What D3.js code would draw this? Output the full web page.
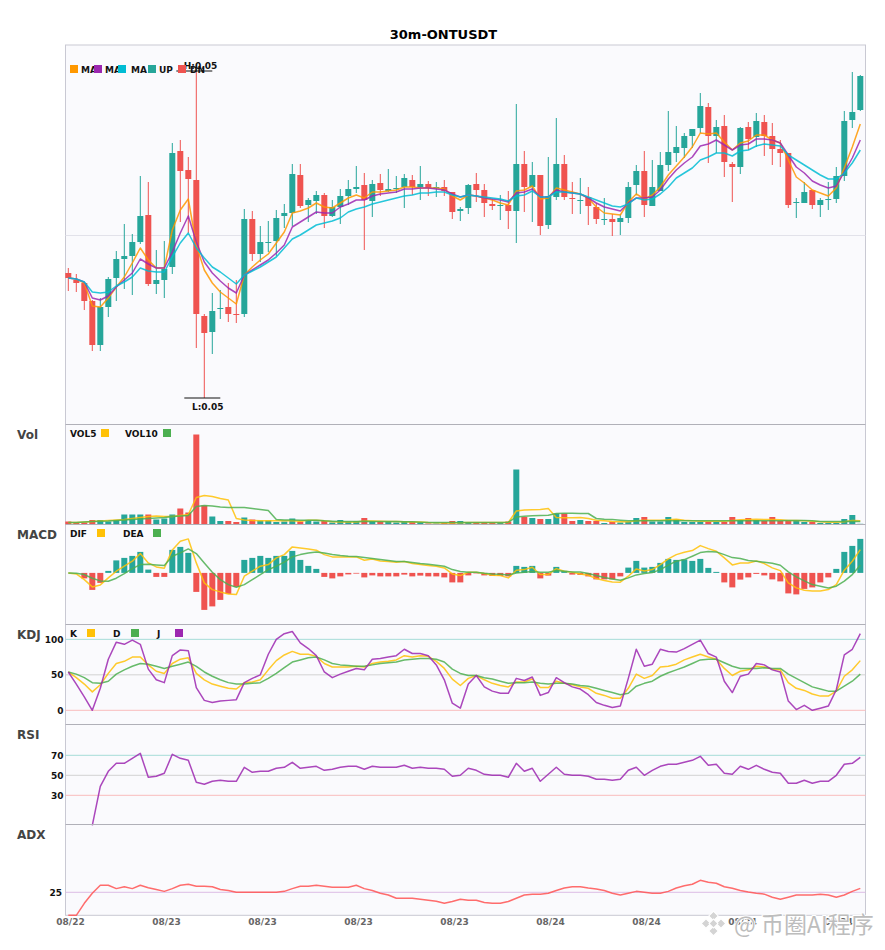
<!DOCTYPE html>
<html>
<head>
<meta charset="utf-8">
<title>30m-ONTUSDT</title>
<script src="https://cdn.jsdelivr.net/npm/d3@7"></script>
<style>
	html, body { margin: 0; padding: 0; background: #fff; }
	text { font-family: 'DejaVu Sans', sans-serif; font-weight: bold; }
	.axis .domain { display: none; }
	.axis text { font-family: 'DejaVu Sans', sans-serif; font-weight: bold; font-size: 9px; }
</style>
</head>
<body>
<svg id="chart" width="885" height="950"></svg>
<script>
// prices are in units of 0.00001
const priceOpen = [
	5027,5020,5017,4999,4955,4993,5022,5041,5044,5058,
	5085,5016,5020,5033,5149,5130,5120,4984,4968,4991,
	4993,4986,4986,5081,5046,5057,5059,5084,5087,5125,
	5095,5099,5105,5084,5093,5104,5111,5115,5099,5117,
	5109,5111,5113,5120,5113,5116,5112,5113,5108,5089,
	5092,5116,5110,5096,5094,5095,5089,5136,5113,5125,
	5075,5103,5136,5102,5099,5103,5093,5080,5081,5078,
	5082,5115,5129,5094,5109,5135,5147,5152,5164,5172,
	5193,5164,5174,5136,5133,5173,5163,5178,5164,5151,
	5147,5097,5097,5110,5095,5100,5101,5124,5180,5190
]
const priceClose = [
	5022,5017,4999,4955,4993,5021,5041,5044,5058,5084,
	5016,5020,5031,5147,5129,5121,4986,4967,4989,4992,
	4986,4985,5081,5046,5058,5058,5082,5087,5126,5094,
	5100,5105,5084,5093,5104,5111,5113,5100,5116,5110,
	5111,5112,5122,5113,5116,5112,5113,5109,5088,5091,
	5115,5110,5097,5094,5095,5089,5136,5113,5125,5074,
	5104,5136,5103,5101,5100,5094,5081,5081,5078,5082,
	5113,5129,5095,5113,5135,5148,5153,5164,5171,5194,
	5164,5173,5138,5133,5172,5161,5179,5164,5151,5147,
	5095,5098,5108,5095,5100,5101,5124,5179,5188,5224
]
const priceHigh = [
	5032,5026,5018,5000,5002,5023,5049,5076,5066,5124,
	5118,5050,5059,5157,5160,5143,5229,4986,5007,5010,
	5017,5020,5091,5089,5074,5079,5090,5096,5136,5136,
	5102,5109,5107,5100,5111,5120,5134,5127,5120,5126,
	5131,5124,5126,5125,5134,5119,5118,5120,5108,5093,
	5116,5127,5116,5101,5105,5109,5196,5149,5138,5125,
	5143,5182,5145,5118,5122,5113,5097,5102,5086,5086,
	5118,5135,5149,5140,5148,5189,5174,5167,5171,5207,
	5197,5180,5185,5138,5173,5178,5187,5185,5177,5160,
	5147,5102,5118,5110,5102,5118,5133,5189,5228,5225
]
const priceLow = [
	5009,5008,4990,4949,4949,4983,4999,5011,5005,5056,
	5014,5006,5002,5026,5078,5067,4952,4902,4946,4981,
	4978,4977,4983,5039,5038,5048,5044,5072,5074,5092,
	5078,5086,5072,5083,5076,5095,5107,5050,5083,5104,
	5108,5107,5092,5105,5100,5104,5103,5104,5081,5079,
	5086,5098,5083,5090,5080,5071,5057,5088,5078,5065,
	5071,5100,5100,5086,5086,5075,5076,5075,5064,5065,
	5077,5105,5083,5094,5109,5129,5138,5142,5152,5167,
	5137,5147,5123,5098,5126,5150,5153,5144,5135,5133,
	5092,5082,5097,5091,5083,5090,5097,5119,5172,5189
]
const ma5 = [
	5022,5021,5017,4994,4993,5002,5013,5023,5037,5052,
	5040,5032,5032,5070,5090,5101,5055,5030,5017,5008,
	5002,4996,5025,5033,5040,5046,5057,5068,5087,5089,
	5092,5097,5093,5092,5097,5102,5105,5102,5108,5108,
	5109,5110,5113,5113,5112,5112,5112,5111,5104,5100,
	5105,5104,5102,5100,5097,5095,5109,5110,5114,5101,
	5102,5112,5110,5108,5106,5102,5093,5087,5086,5085,
	5098,5106,5101,5105,5113,5125,5134,5143,5153,5167,
	5166,5167,5158,5150,5157,5159,5165,5165,5160,5157,
	5140,5123,5117,5110,5107,5104,5112,5132,5153,5176
]
const ma10 = [
	5022,5021,5018,5002,5000,5004,5013,5020,5027,5041,
	5036,5032,5032,5048,5067,5084,5058,5038,5027,5019,
	5012,5007,5025,5030,5035,5040,5047,5055,5073,5078,
	5083,5088,5087,5087,5093,5096,5100,5100,5104,5106,
	5107,5108,5111,5111,5112,5112,5111,5110,5106,5103,
	5105,5104,5102,5101,5100,5098,5107,5108,5111,5103,
	5103,5110,5108,5107,5106,5102,5097,5093,5091,5089,
	5097,5102,5102,5103,5110,5121,5130,5137,5143,5154,
	5156,5160,5155,5150,5155,5156,5161,5161,5160,5157,
	5145,5133,5127,5119,5115,5112,5114,5128,5142,5160
]
const ma20 = [
	5022,5021,5018,5008,5007,5008,5014,5018,5023,5032,
	5029,5028,5028,5043,5057,5067,5052,5042,5033,5028,
	5022,5016,5025,5029,5033,5038,5043,5052,5061,5065,
	5070,5075,5077,5079,5082,5088,5091,5093,5096,5098,
	5100,5102,5104,5105,5107,5107,5108,5108,5105,5103,
	5105,5104,5103,5102,5101,5099,5104,5105,5109,5103,
	5103,5108,5108,5107,5106,5103,5100,5097,5094,5093,
	5096,5102,5100,5101,5106,5113,5122,5127,5132,5140,
	5143,5147,5147,5144,5149,5150,5154,5156,5155,5154,
	5145,5140,5135,5130,5125,5121,5121,5127,5137,5150
]
const volume = [
	3,2,2,4.5,4.5,3,4.5,10,10,10,
	10,5,6,10,16,12,90,19,8,3.5,
	3.5,2.5,7,5,4,4,2.5,3,6,3,
	4,3,3.5,2,4.5,2.5,3.5,6.5,3.5,3,
	3,2,2.5,2.5,2,1,1,1.5,3.5,3.5,
	2.5,2,2,2,2,3,55,7.5,6.5,5.5,
	5.5,11,11,3.5,4.5,3.5,3.5,1.5,2.5,2,
	2.5,6.5,7.5,3,3,7.5,5,2.5,2.5,2.5,
	2.5,2.5,2.5,7.5,4.5,6.5,4.5,3.5,7.5,3.5,
	3.5,3.5,2.5,2.5,1.5,1.5,1.5,5.5,9.5,0.7
]
const vol5 = [
	2,2,2.5,3,3.5,4,4.5,5,6,7,
	8,8.5,8,8,9,10,27,29,28,26,
	24.5,6,4.5,4,3.7,3.7,3.7,3.7,3.7,3.3,
	4.3,4.3,3.7,2.7,2.5,2.5,2.5,3.5,3.5,3.2,
	3,3,2.7,2.5,2.5,2,1.7,1.5,1.5,1.7,
	2,2,2,2,2,2,13.5,14.5,14.7,15,
	16,7,6.7,6.7,7,6,4.3,3.7,3,2.7,
	2.7,3.7,4.3,4.3,4.3,4.7,5.3,4.3,3.7,3.3,
	3.3,3.3,3.3,4,4.7,5,5.3,5,5,4.7,
	4,4,3.7,3.3,2.7,2.3,2.3,2.7,4,3.7
]
const vol10 = [
	2,2,2.5,3,3.2,3.5,4,4.5,5,5.5,
	6,6.5,7,8,8.5,9,18,19,18.5,17.5,
	17,17,17,16,15,14,5,4.5,4.5,4.3,
	4.3,4.3,3.7,3.3,3,3,3,3.3,3,3,
	3,3,2.7,2.7,2.3,2,2,2,2,2,
	2,2,2,2,2,2.3,7.5,8.3,8.7,9,
	9.3,11,11.3,11.3,11,11,6,5.3,5,4.3,
	3.7,3.7,3.7,3.7,3.7,3.7,3.7,3.7,3.7,3.7,
	3.7,3.7,3.7,3.7,3.7,3.7,3.7,3.7,3.7,3.7,
	4,4,4,3.7,3,3,3,3,3.3,3
]
const macdHist = [
	0,0,-5.5,-17,-10,2,12.5,15,17,21,
	3.3,-4,-4,23,26,20,-19,-37,-33.5,-27,
	-21,-14,13,15,17,15,17,17,22,13,
	7,4,-4,-5.5,-3.5,-1.5,-0.7,-4.5,-2.5,-3.5,
	-3.5,-3.5,-1.7,-3.5,-2.7,-3.5,-3.5,-4.5,-9.5,-9.5,
	-2.5,-0.5,-2.5,-3,-3,-3.5,7,6,7,-5.5,
	-2.7,6,2,-1.7,-2,-3.5,-6.5,-6.5,-6.5,-3.5,
	5.3,12,5.3,6,10,14,13,13.5,12,14,
	5,1,-9.5,-14.5,-6.7,-4.5,-1,-2.5,-6.5,-8.5,
	-20.5,-21.5,-16,-14.5,-9.5,-4.5,4,21,27,34
]
const dif = [
	0,-1,-6.7,-14,-12,-5,1.7,6.7,11.7,19.3,
	10,6,4.7,23,31.7,34,10,-10,-16.7,-19,
	-21,-21.7,-3.3,1.7,6.7,8.3,15,18.3,26,25,
	24,22.7,18.3,16,16,16,16,12.7,14,12,
	11.3,10.7,11.3,9.3,8.3,7.3,6.7,5,-1,-2.7,
	0.7,0.7,-0.7,-2.3,-2.7,-5,2.7,3.3,5.7,-1.7,
	-1.7,4.3,1.7,0.7,-1,-2.3,-5.7,-7.7,-9,-9.3,
	-3.3,4,2,3.3,8.3,14,18.3,20.7,22.3,27.3,
	24.3,21.7,15,8,10,10,12,9.3,5,2.3,
	-10,-15,-17.3,-18,-18,-16.7,-11.7,2.7,11.7,23.3
]
const dea = [
	0,-0.3,-1.7,-5.3,-8,-8.3,-5.3,-0.7,4.3,8.3,
	8.7,8,7.3,16.7,20,24,19.3,10,0.7,-6.7,
	-11.7,-14.3,-11.7,-6.7,-1.7,3.3,6.7,10.7,16,18.3,
	20,21,20,18.3,17.3,16.7,16.3,15.3,14.3,13.3,
	12.3,11.3,11.3,10.3,9.3,8.7,7.7,6.7,3.3,1.3,
	0.7,0.7,-0.3,-1,-1.3,-2,0,0.7,1.3,0.7,
	0.7,2.3,1.7,1,1,-0.7,-2.7,-4.7,-6,-7.3,
	-5,-2,-0.7,0.3,3.3,7.7,11.7,13.3,16.7,20.3,
	21.3,21,18.3,15.3,14.3,12.3,11.7,10.7,9.7,7.7,
	1,-4,-8,-11.7,-13.3,-15,-13.3,-8.3,-1.7,7.7
]
const kdjK = [
	54,46,37,26,36,52,66,69,75,75,
	64,55,52,66,72,74,52,43,37,34,
	31,30,39,40,43,57,70,78,83,79,
	79,76,66,61,61,61,62,61,66,68,
	69,71,77,75,77,76,69,59,44,35,
	45,49,43,38,35,33,40,40,44,32,
	32,41,38,36,33,31,24,21,17,17,
	31,51,45,49,61,62,65,71,75,79,
	75,72,59,49,55,57,62,61,58,57,
	39,31,28,23,20,20,27,48,57,70
]
const kdjD = [
	54,51,46,39,38,41,51,57,62,66,
	65,62,59,62,65,68,62,54,48,43,
	39,37,37,38,39,45,52,60,68,71,
	74,75,71,66,64,63,62,62,64,66,
	67,68,71,72,73,73,72,68,58,52,
	49,49,46,44,41,38,39,39,40,38,
	37,38,38,37,35,34,31,28,25,22,
	24,34,38,41,48,53,57,61,66,71,
	72,72,67,62,59,59,59,60,59,59,
	51,45,39,33,30,27,27,34,41,51
]
const kdjJ = [
	54,37,19,0,31,72,96,93,99,93,
	58,43,39,77,85,84,32,14,11,13,
	14,15,39,45,50,79,100,108,111,95,
	87,77,54,46,51,55,59,57,72,73,
	75,77,86,80,80,77,64,43,10,3,
	37,49,33,27,24,24,45,42,47,21,
	25,46,39,33,30,22,11,7,4,6,
	45,86,62,65,86,83,82,87,93,99,
	80,75,41,25,48,51,66,64,57,54,
	13,1,7,0,3,6,29,78,86,108
]
const rsi = [
	null,null,null,0,39,54,62,62,67,72,
	48,49,52,71,67,65,43,41,44,45,
	44,44,58,53,54,54,57,58,63,57,
	58,59,55,56,58,59,59,56,59,58,
	58,58,60,57,58,57,57,56,49,50,
	57,55,51,50,50,48,62,54,57,44,
	51,58,51,50,50,49,46,46,45,46,
	55,58,50,55,59,61,61,63,65,69,
	60,61,52,51,59,56,60,56,53,52,
	42,42,45,42,44,44,50,61,62,68
]
const adx = [
	0,0,13,24,32.6,32.6,29,31,29,32.6,
	30,28,26,29,32.6,33.7,31.5,31.5,31,28,
	27,25,25,25,25,25,25,26,29,31.5,
	31.5,32.6,31.5,30.4,30.4,30.4,32.6,29,27,24,
	22,18.5,18.5,18.5,17.4,16.3,15.2,13,15,17.4,
	16.3,16.3,14,13,13,15,18.5,22,23,23,
	24,27,29.7,31,31,29.7,28.6,27,24,22,
	24,26,25,24,24,26,29.7,32,33.7,38,
	36,34.8,31,29.3,27,25.4,24,23,19.6,17.4,
	19.6,22,22,22,23,22,19.6,22,26,29.3
]
const tickIndexes = [0, 12, 24, 36, 48, 60, 72, 84, 96]
const tickDates = ['08/22', '08/23', '08/23', '08/23', '08/23', '08/24', '08/24', '08/24', '08/24']

const colors = {
	up: '#26a69a', down: '#ef5350', ma5: '#ff9800', ma10: '#9c27b0', ma20: '#00bcd4',
	yellow: '#ffc107', green: '#4caf50', purple: '#9c27b0', adx: '#ff5252',
	panel: '#fafafd', frame: '#c9c9d3', split: '#b0b0b8',
	refHigh: '#a6dcd8', refMid: '#d2d2d2', refLow: '#f9bcbc', refAdx: '#dcbce4',
	label: '#444', tick: '#666'
}

const left = 65.5
const right = 865.5
const svg = d3.select('#chart')
const x = d3.scaleLinear().domain([0, 99]).range([68.3, 860.3])

const yPrice = d3.scaleLinear().domain([4875, 5255]).range([425, 45])
const yVol = d3.scaleLinear().domain([0, 100]).range([524.5, 424.5])
const yMacd = d3.scaleLinear().domain([-51.7, 48.3]).range([624.6, 524.6])
const yKdj = d3.scaleLinear().domain([-20.7, 120.2]).range([725, 625])
const yRsi = d3.scaleLinear().domain([0.3, 100.3]).range([825, 725])
const yAdx = d3.scaleLinear().domain([0, 98]).range([915.3, 825.1])

const isUp = i => priceClose[i] >= priceOpen[i]
const candleColor = i => isUp(i) ? colors.up : colors.down

const drawLine = (values, y, color, width = 1.5, opacity = 0.85) => {
	const line = d3.line()
		.defined(v => v != null)
		.x((v, i) => x(i))
		.y(v => y(v))
	svg.append('path')
		.attr('d', line(values))
		.attr('fill', 'none')
		.attr('stroke', color)
		.attr('stroke-width', width)
		.attr('stroke-opacity', opacity)
		.attr('stroke-linejoin', 'round')
}

const drawRef = (y, value, color) => {
	svg.append('line')
		.attr('x1', left).attr('x2', right)
		.attr('y1', y(value)).attr('y2', y(value))
		.attr('stroke', color)
		.attr('stroke-width', 1)
}

const drawAxis = (y, values, padding = 2) => {
	svg.append('g')
		.attr('class', 'axis')
		.attr('transform', `translate(${left},0)`)
		.call(d3.axisLeft(y).tickValues(values).tickSize(0).tickPadding(padding))
		.selectAll('text')
		.attr('fill', '#111')
}

const drawText = (tx, ty, str, size = 9, fill = '#111', anchor = 'start') => {
	svg.append('text')
		.attr('x', tx).attr('y', ty)
		.attr('font-size', size)
		.attr('fill', fill)
		.attr('text-anchor', anchor)
		.text(str)
}

const drawSwatch = (sx, sy, color) => {
	svg.append('rect')
		.attr('x', sx).attr('y', sy)
		.attr('width', 8).attr('height', 8)
		.attr('fill', color)
}

// title and frames
drawText(443.5, 39, '30m-ONTUSDT', 13, '#000', 'middle')
svg.append('rect')
	.attr('x', left).attr('y', 45)
	.attr('width', right - left).attr('height', 870.3)
	.attr('fill', colors.panel)
	.attr('stroke', colors.frame)

// main panel
drawRef(yPrice, 5064.5, '#e2e2ea')
const candles = svg.append('g')
candles.selectAll('line').data(priceOpen).join('line')
	.attr('x1', (d, i) => x(i)).attr('x2', (d, i) => x(i))
	.attr('y1', (d, i) => yPrice(priceHigh[i]))
	.attr('y2', (d, i) => yPrice(priceLow[i]))
	.attr('stroke', (d, i) => candleColor(i))
candles.selectAll('rect').data(priceOpen).join('rect')
	.attr('x', (d, i) => x(i) - 3)
	.attr('width', 6)
	.attr('y', (d, i) => yPrice(Math.max(priceOpen[i], priceClose[i])))
	.attr('height', (d, i) => Math.max(1, Math.abs(yPrice(priceOpen[i]) - yPrice(priceClose[i]))))
	.attr('fill', (d, i) => candleColor(i))
drawLine(ma5, yPrice, colors.ma5)
drawLine(ma10, yPrice, colors.ma10)
drawLine(ma20, yPrice, colors.ma20)

// high and low markers
const highIndex = d3.maxIndex(priceHigh)
const lowIndex = d3.minIndex(priceLow)
const priceFormat = v => d3.format('.2f')(v * 1e-5)
const marker = (i, v, tx, ty, label) => {
	svg.append('line')
		.attr('x1', x(i) - 20).attr('x2', x(i) + 16)
		.attr('y1', yPrice(v)).attr('y2', yPrice(v))
		.attr('stroke', '#111')
	drawText(tx, ty, label + priceFormat(v), 9, '#111', 'middle')
}
marker(highIndex, priceHigh[highIndex], 200.5, 69, 'H:')
marker(lowIndex, priceLow[lowIndex], 207.7, 410, 'L:')

// main legend
drawText(81, 72.5, 'MA', 9)
drawText(105, 72.5, 'MA', 9)
drawText(131, 72.5, 'MA', 9)
drawText(159, 72.5, 'UP', 9)
drawText(190, 72.5, 'DN', 9)
drawSwatch(70, 65, colors.ma5)
drawSwatch(94, 65, colors.ma10)
drawSwatch(118, 65, colors.ma20)
drawSwatch(148, 65, colors.up)
drawSwatch(178, 65, colors.down)

// volume
svg.append('g').selectAll('rect').data(volume).join('rect')
	.attr('x', (d, i) => x(i) - 3)
	.attr('width', 6)
	.attr('y', d => yVol(d))
	.attr('height', d => yVol(0) - yVol(d))
	.attr('fill', (d, i) => candleColor(i))
drawLine(vol5, yVol, colors.yellow)
drawLine(vol10, yVol, colors.green)

// macd
svg.append('g').selectAll('rect').data(macdHist).join('rect')
	.attr('x', (d, i) => x(i) - 3)
	.attr('width', 6)
	.attr('y', d => yMacd(Math.max(d, 0)))
	.attr('height', d => Math.abs(yMacd(d) - yMacd(0)))
	.attr('fill', d => d >= 0 ? colors.up : colors.down)
drawLine(dif, yMacd, colors.yellow)
drawLine(dea, yMacd, colors.green)

// kdj
drawRef(yKdj, 100, colors.refHigh)
drawRef(yKdj, 50, colors.refMid)
drawRef(yKdj, 0, colors.refLow)
drawLine(kdjK, yKdj, colors.yellow)
drawLine(kdjD, yKdj, colors.green)
drawLine(kdjJ, yKdj, colors.purple)
drawAxis(yKdj, [0, 50, 100])

// rsi
drawRef(yRsi, 70, colors.refHigh)
drawRef(yRsi, 50, colors.refMid)
drawRef(yRsi, 30, colors.refLow)
drawLine(rsi, yRsi, colors.purple)
drawAxis(yRsi, [30, 50, 70])

// adx
drawRef(yAdx, 25, colors.refAdx)
drawLine(adx, yAdx, colors.adx)
drawAxis(yAdx, [25], 3.5)

// panel splits
for (const y of [424.5, 524.5, 624.5, 724.5, 824.5]) {
	svg.append('line')
		.attr('x1', left).attr('x2', right)
		.attr('y1', y).attr('y2', y)
		.attr('stroke', colors.split)
}

// panel titles and legends
drawText(17, 439, 'Vol', 12, colors.label)
drawText(70, 437, 'VOL5')
drawSwatch(101, 429, colors.yellow)
drawText(125, 437, 'VOL10')
drawSwatch(163, 429, colors.green)

drawText(17, 539, 'MACD', 12, colors.label)
drawText(70, 537, 'DIF')
drawSwatch(97, 529, colors.yellow)
drawText(123, 537, 'DEA')
drawSwatch(153, 529, colors.green)

drawText(17, 639, 'KDJ', 12, colors.label)
drawText(70, 637, 'K')
drawSwatch(87, 629, colors.yellow)
drawText(113, 637, 'D')
drawSwatch(131, 629, colors.green)
drawText(157, 637, 'J')
drawSwatch(175, 629, colors.purple)

drawText(17, 739, 'RSI', 12, colors.label)
drawText(17, 839, 'ADX', 12, colors.label)

// x axis
const xAxis = d3.axisBottom(x)
	.tickValues(tickIndexes)
	.tickSize(0)
	.tickPadding(3)
	.tickFormat((d, i) => tickDates[i])
svg.append('g')
	.attr('class', 'axis')
	.attr('transform', 'translate(1.7,915.3)')
	.call(xAxis)
	.selectAll('text')
	.attr('fill', colors.tick)

// watermark
const mark = svg.append('g').attr('fill', '#d4d4d4').attr('stroke', '#fff').attr('stroke-width', 1)
const diamond = d3.symbol(d3.symbolSquare)
for (const [dx, dy, size] of [[713.5, 916, 45], [713.5, 931, 45], [706, 923.5, 45], [721, 923.5, 45], [713.5, 923.5, 40]]) {
	mark.append('path')
		.attr('d', diamond.size(size)())
		.attr('transform', `translate(${dx},${dy}) rotate(45)`)
}
svg.append('text')
	.attr('x', 734).attr('y', 933)
	.attr('font-size', 23)
	.attr('fill', '#bdbdbd')
	.attr('stroke', '#fff')
	.attr('stroke-width', 2)
	.attr('paint-order', 'stroke')
	.style('font-family', "'Noto Sans CJK SC', sans-serif")
	.style('font-weight', 'normal')
	.text('@ 币圈AI程序')
</script>
</body>
</html>
